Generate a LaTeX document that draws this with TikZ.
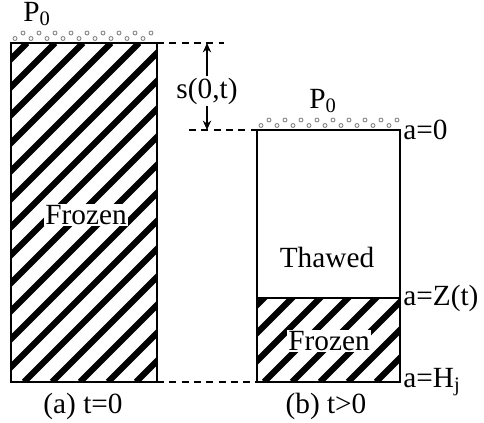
\documentclass[tikz,border=0pt]{standalone}
\usepackage{fontspec}
\setmainfont{Liberation Serif}
\usetikzlibrary{positioning,arrows.meta}
\begin{document}
\begin{tikzpicture}[x=0.3mm,y=-0.3mm,
	lbl/.style={font=\fontsize{25}{25}\selectfont,inner sep=1pt},
	hatchline/.style={line width=5.2pt},
	dashline/.style={line width=1.3pt,dash pattern=on 6pt off 4.5pt},
	bubble/.style={gray,line width=0.7pt}]
	\useasboundingbox (0,0) rectangle (484,423);
	% corners of the two columns
	\coordinate (lt) at (11,43);  \coordinate (lb) at (157,382);
	\coordinate (rt) at (257,130); \coordinate (rb) at (400,382);
	\coordinate (zl) at (257,298); \coordinate (zr) at (400,298);
	% hatching, left column
	\begin{scope}
		\clip (lt) rectangle (lb);
		\foreach \x in {-340,-312,...,170}
			\draw[hatchline] (\x,382)--+(339,-339);
	\end{scope}
	% hatching, frozen part on the right
	\begin{scope}
		\clip (zl) rectangle (rb);
		\foreach \x in {180,208,...,420}
			\draw[hatchline] (\x,382)--+(90,-90);
	\end{scope}
	\draw[line width=1.2pt] (lt) rectangle (lb);
	\draw[line width=1.2pt] (rt) rectangle (rb);
	\draw[line width=1.2pt] (zl)--(zr);
	% bubbles above the surfaces
	\foreach \i in {0,...,17}
		\draw[bubble] ({15+8*\i},{mod(\i,2)==0 ? 38.5 : 33}) circle (2);
	\foreach \i in {0,...,17}
		\draw[bubble] ({261+8*\i},{mod(\i,2)==0 ? 125.5 : 120}) circle (2);
	% dashed levels
	\coordinate (d1) at (224,43);
	\coordinate (d2) at (189,130);
	\draw[dashline] (157,43)--(d1);
	\draw[dashline] (d2)--(rt);
	\draw[dashline] (lb)--(257,382);
	% depth s(0,t)
	\node[lbl] (s) at (207,91) {s(0,t)};
	\draw[->,>={Stealth[length=8pt,width=7pt]},line width=1.5pt] (s.north)--(207,43);
	\draw[->,>={Stealth[length=8pt,width=7pt]},line width=1.5pt] (s.south)--(207,130);
	% texts
	\node[lbl] (p1) at (37,14) {P\textsubscript{0}};
	\node[lbl] (p2) at (323,101) {P\textsubscript{0}};
	\node[lbl,fill=white] (fz1) at (86,215) {Frozen};
	\node[lbl] (th) at (327,257) {Thawed};
	\node[lbl,fill=white] (fz2) at (329,341) {Frozen};
	\node[lbl,anchor=west] (a0) at (402,130) {a=0};
	\node[lbl,anchor=west] (az) at (402,298) {a=Z(t)};
	\node[lbl,anchor=west] (ah) at (402,382) {a=H\textsubscript{j}};
	\node[lbl] (ca) at (83,406) {(a) t=0};
	\node[lbl] (cb) at (326,406) {(b) t>0};
\end{tikzpicture}
\end{document}
